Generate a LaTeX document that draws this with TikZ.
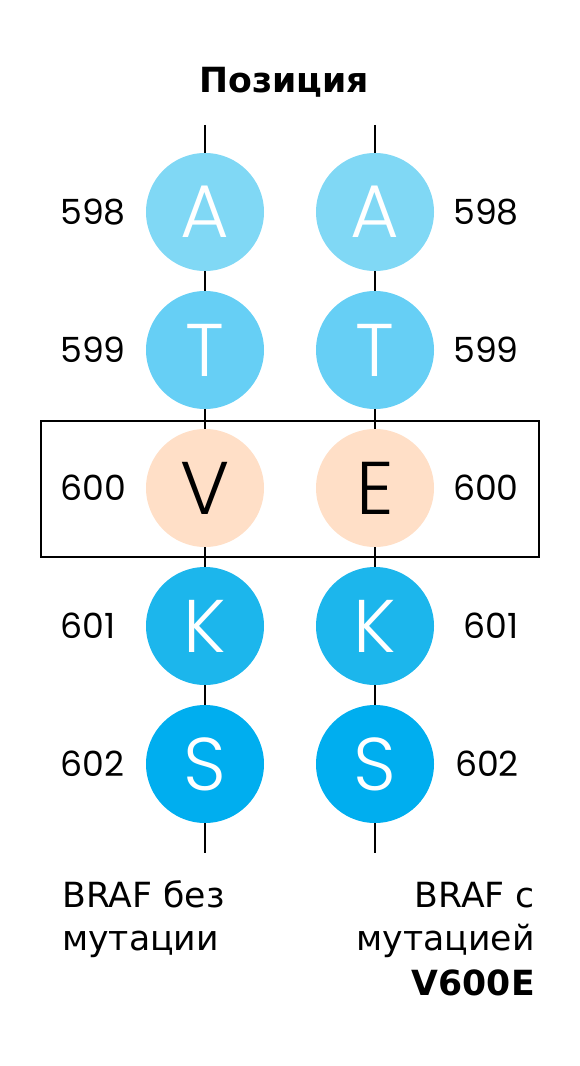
\documentclass[tikz,border=0pt]{standalone}
\usepackage{fontspec}
\setmainfont{DejaVu Sans}
\newfontfamily\popl{Poppins Light}
\newfontfamily\pop{Poppins}
\newfontfamily\txt{DejaVu Sans}
\definecolor{cA}{HTML}{80D8F5}
\definecolor{cT}{HTML}{66CFF5}
\definecolor{cV}{HTML}{FFDFC7}
\definecolor{cK}{HTML}{1CB6EC}
\definecolor{cS}{HTML}{00AEEF}
\tikzset{
  base/.style={circle, minimum size=88.5pt, inner sep=0pt, text=white, font=\popl\fontsize{56}{56}\selectfont},
  num/.style={inner sep=0pt, font=\pop\fontsize{26}{26}\selectfont},
  lbl/.style={inner sep=0pt, font=\txt\fontsize{26}{26}\selectfont},
  link/.style={line width=1.5pt, black},
}
\begin{document}
\begin{tikzpicture}[x=0.75pt, y=-0.75pt]
\useasboundingbox (0,0) rectangle (580,1066);
\node[inner sep=0pt, anchor=base, font=\txt\bfseries\fontsize{26}{26}\selectfont] (title) at (284,93) {Позиция};
% columns
\coordinate (Ltop) at (205,125);
\coordinate (Lbot) at (205,853);
\coordinate (Rtop) at (375,125);
\coordinate (Rbot) at (375,853);
\node[base, fill=cA] (La) at (205,212) {A};
\node[base, fill=cT] (Lt) at (205,350) {T};
\node[base, fill=cV, text=black] (Lv) at (205,488) {V};
\node[base, fill=cK] (Lk) at (205,626) {K};
\node[base, fill=cS] (Ls) at (205,764) {S};
\node[base, fill=cA] (Ra) at (375,212) {A};
\node[base, fill=cT] (Rt) at (375,350) {T};
\node[base, fill=cV, text=black] (Re) at (375,488) {E};
\node[base, fill=cK] (Rk) at (375,626) {K};
\node[base, fill=cS] (Rs) at (375,764) {S};
\draw[link] (Ltop) -- (La) (La) -- (Lt) (Lt) -- (Lv) (Lv) -- (Lk) (Lk) -- (Ls) (Ls) -- (Lbot);
\draw[link] (Rtop) -- (Ra) (Ra) -- (Rt) (Rt) -- (Re) (Re) -- (Rk) (Rk) -- (Rs) (Rs) -- (Rbot);
% highlight box
\draw[link] (41,421) rectangle (539,557);
% numbers
\node[num, anchor=base west] (n1l) at (60,224) {598};
\node[num, anchor=base west] (n2l) at (60,362) {599};
\node[num, anchor=base west] (n3l) at (60,500) {600};
\node[num, anchor=base west] (n4l) at (60,638) {601};
\node[num, anchor=base west] (n5l) at (60,776) {602};
\node[num, anchor=base east] (n1r) at (519,224) {598};
\node[num, anchor=base east] (n2r) at (519,362) {599};
\node[num, anchor=base east] (n3r) at (519,500) {600};
\node[num, anchor=base east] (n4r) at (519,638) {601};
\node[num, anchor=base east] (n5r) at (519,776) {602};
% captions
\node[lbl, anchor=base west] (l1) at (62,907) {BRAF без};
\node[lbl, anchor=base west] (l2) at (62,950) {мутации};
\node[lbl, anchor=base east] (r1) at (535,907) {BRAF с};
\node[lbl, anchor=base east] (r2) at (535,950) {мутацией};
\node[lbl, anchor=base east, font=\txt\bfseries\fontsize{26}{26}\selectfont] (r3) at (535,995) {V600E};
\end{tikzpicture}
\end{document}
